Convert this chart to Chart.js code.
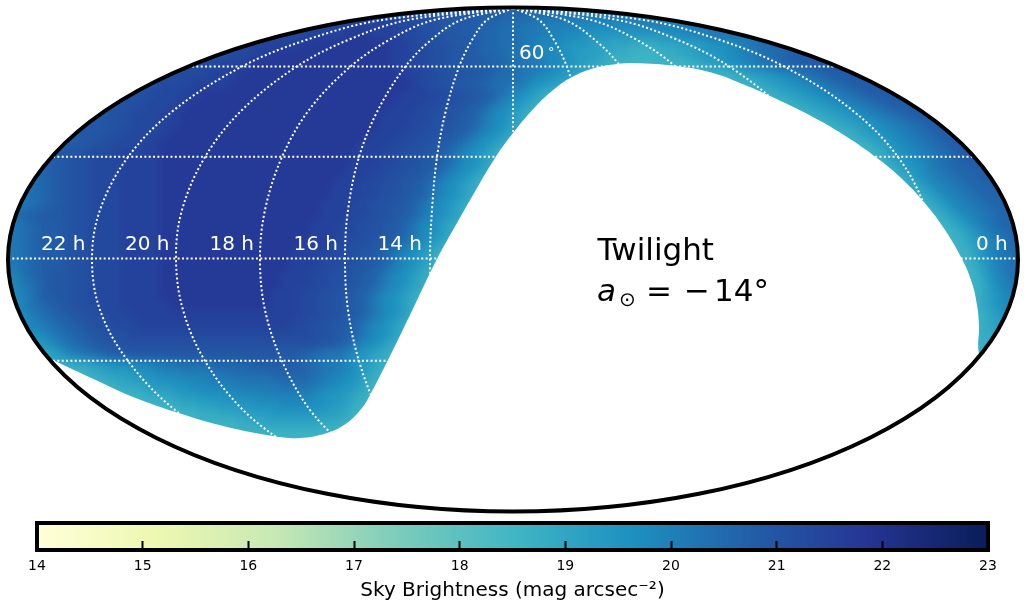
<!DOCTYPE html>
<html>
<head>
<meta charset="utf-8">
<title>Twilight sky brightness</title>
<script src="https://cdn.jsdelivr.net/npm/chart.js@4/dist/chart.umd.min.js"></script>
<style>
  html, body { margin: 0; padding: 0; background: #fff; }
  #wrap { position: relative; width: 1025px; height: 610px; overflow: hidden; }
  canvas { position: absolute; left: 0; }
  #map { top: 0; }
  #bar { top: 515px; }
</style>
</head>
<body>
<div id="wrap">
  <canvas id="map" width="1025" height="610"></canvas>
  <canvas id="bar" width="1025" height="95"></canvas>
</div>
<script>
// colour map
const cmapMags = [14, 15.125, 16.25, 17.375, 18.5, 19.625, 20.75, 21.875, 23]
const cmapColors = ['#ffffd9', '#edf8b1', '#c7e9b4', '#7fcdbb', '#41b6c4', '#1d91c0', '#225ea8', '#253494', '#081d58']

const barTicks = [14, 15, 16, 17, 18, 19, 20, 21, 22, 23]
const barTitle = 'Sky Brightness (mag arcsec\u207B\u00B2)'

// letters in the sky table stand for these magnitudes
const magLetters = 'abcdefghijklmnopq'
const magLevels = [18.6, 18.8, 19.0, 19.2, 19.4, 19.6, 19.8, 20.0, 20.2, 20.4, 20.6, 20.8, 20.95, 21.1, 21.3, 21.5, 21.75]

// sky cells, 10 map units square: [row, first column, runs of magnitude letters]
const skyRuns = [
  [1, 35, 'o4n4m4l3k3j3i13'],
  [2, 30, 'o4p6o2n2m2l2k2j2i2h4g6h4i7'],
  [3, 26, 'o5p4q2p3o2n2m2l2k2j2i2h2g2f2e6f2g2hi2j5'],
  [4, 23, 'o3p4q9p2o2n2m2lk2j2ihg2fe2d2c2b3c2d2ef2ghijk4'],
  [5, 20, 'n3o2p2q12p2o2n2m2lk2ji2hg2fed2cb2a3b2cde2fghij2kl2m3'],
  [6, 18, 'n2o2p3q14p2o2n2m2l2k2ji2hgfedcba8bcdefghijk2l2m5'],
  [7, 15, 'n3o3p3q16p2o2n2m2lkj2ihgfedba4'],
  [7, 69, 'a4bcdefghijkl2m3'],
  [8, 13, 'n3o3p4q18pon2ml2kj2ihfedba4'],
  [8, 72, 'a3bcdefghijkl2m3'],
  [9, 12, 'mn2o3p2q20p3o2n2mlkigfdba2'],
  [9, 75, 'a2bcdefghijkl2m3'],
  [10, 10, 'm2n2o3p2q20p3o2n2mlkigfdba2'],
  [10, 77, 'a2bcdefghijkl2m3'],
  [11, 9, 'lmn2o3p2q20p3o2n2mlkigfdba2'],
  [11, 79, 'a2bcdefghijkl2m3'],
  [12, 8, 'lm2n2o3p2q20p3o2n2mlkigfdba2'],
  [12, 81, 'a2bcdefghijkl4'],
  [13, 6, 'l2m2n2o3p2q20p3o2n2mlkigfdba2'],
  [13, 83, 'a2bdefghijkl4'],
  [14, 5, 'l3mn2o3p2q20p3o2n2mlkigfdba2'],
  [14, 85, 'a2cdfghijklm3'],
  [15, 4, 'l2mn2o3p4q19p3o2n2mlkigfdba2'],
  [15, 86, 'a2cefghijklm3'],
  [16, 4, 'klmn2o3p4q19p3o2n2mlkigfdba2'],
  [16, 87, 'a2cefgijk2l4'],
  [17, 3, 'jklmn2o3p4q18p3o2n2mlkigfdba2'],
  [17, 88, 'a2ceghijk2l4'],
  [18, 2, 'j2klmn2o3p4q17p3o2n2mlkigfdba2'],
  [18, 89, 'a2ceghijk2l3'],
  [19, 2, 'ijklmn2o3p4q17p3o2n2mlkigfdba2'],
  [19, 90, 'a2ceghijk2l3'],
  [20, 1, 'i2jklmn2o3p4q16p3o2n2mlkigfdba2'],
  [20, 91, 'a2ceghijk4'],
  [21, 1, 'jkl2m2n2o3p4q16p3o2n2mlkigfdba2'],
  [21, 92, 'a2ceghijk3'],
  [22, 1, 'ijkl2mn2o3p4q15p3o2n2mlkigfdba2'],
  [22, 93, 'a2cegijk3'],
  [23, 0, 'i2jkl2mn2o3p4q15p3o2n2mlkigfdba2'],
  [23, 93, 'a3cegijk2'],
  [24, 0, 'hijkl2mn2o3p4q14p3o2n2mlkigfdba2'],
  [24, 94, 'a2bdfhik2'],
  [25, 0, 'hijkl2mn2o3p4q13p3o2n2mlkigfdba2'],
  [25, 95, 'a2cfhij2'],
  [26, 0, 'hijkl2mn2o3p4q13p3o2n2mlkigfdba2'],
  [26, 95, 'a2begij2'],
  [27, 0, 'ghjklm2n2o3p4q12p3o2n2mlkigfdba2'],
  [27, 95, 'a3dghj2'],
  [28, 0, 'g2ijlm2n2o3p4q12p3o2n2mlkigfdba2'],
  [28, 96, 'a2cfhi2'],
  [29, 1, 'ghjlm2n2o3p4q11p3o2n2mlkigfdba2'],
  [29, 96, 'a2cegh2'],
  [30, 1, 'fhjklmn2o3p5q10p3o2n2mlkigfdba2'],
  [30, 96, 'a2ceg3'],
  [31, 1, 'g2ijklmn2o3p17o2n2mlkigfdba2'],
  [31, 96, 'a2bdf3'],
  [32, 2, 'fhijklmn2o3p15o2n2mlkigfdba2'],
  [32, 96, 'a2bde3'],
  [33, 2, 'f2gijklmn3o18n2mlkigfdba2'],
  [33, 96, 'a2bc3'],
  [34, 3, 'cegijklm2n20mlkigfdba2'],
  [34, 96, 'a2b3'],
  [35, 4, 'bdfhijkl2m15l2kji2hfecba2'],
  [35, 96, 'a4'],
  [36, 4, 'b4cdef2g2hi2j3k4l5kji2hfecba2'],
  [37, 6, 'a3bcd2ef2g2h3i2j4k4jihgfdba3'],
  [38, 8, 'a3bc2de2f2g2h3i4j3ihgfeca3'],
  [39, 10, 'a4bc2de2f3g3h5gfe2cba3'],
  [40, 12, 'a5bc2d2e3f3g3f2edba3'],
  [41, 15, 'a5b2c2d3e5d2ca3'],
  [42, 18, 'a6b2c6b2a3'],
  [43, 22, 'a14']
]

// edge of the dark sky, everything under it is blank
const horizonX = [40, 55, 100, 133, 180, 227, 273, 300, 327, 347, 362, 370, 388, 410, 437, 457, 473, 495, 513, 537, 557, 573, 593, 617, 640, 680, 713, 745, 770, 813, 847, 877, 900, 923, 943, 962, 972, 977, 979, 979.5, 990]
const horizonY = [354, 361, 382, 397, 413.5, 427, 436, 438, 433, 423, 408, 395, 360, 315, 259, 223, 195, 158, 133, 105, 87, 76.5, 68.5, 64, 63.3, 66.5, 73, 85, 96, 117, 137, 158, 177, 201, 227, 259, 283, 305, 325, 355, 360]

// graticule
const parallelY = [66.5, 156.7, 258.5, 360.7]
const parallelFrom = [192, 53, 8, 53]
const parallelTo = [835, 973, 1018, 973]
const meridianY = [8, 20, 40, 67, 110, 157, 210, 259, 310, 361, 410, 452]
const meridians = [
  [513, 382, 306, 241, 174, 128, 100, 92, 100, 128, 175, 241],
  [513, 408, 348, 296, 242, 205, 182, 176, 183, 205, 243, 296],
  [513, 434, 389, 350, 309, 282, 265, 260, 265, 282, 310, 350],
  [513, 461, 431, 405, 378, 359, 348, 345, 348, 359, 378, 405],
  [513, 487, 472, 459, 446, 437, 432, 430, 432, 437, 446, 459],
  [513, 513, 513, 513, 513, 513, 513, 513],
  [513, 539, 554, 567, 580, 590, 595, 597],
  [513, 565, 595, 621, 648, 667, 678, 681],
  [513, 591, 637, 676, 717, 744, 760, 765],
  [513, 618, 678, 730, 784, 821, 844, 850],
  [513, 644, 720, 785, 852, 898, 926, 934]
]

const mapLabels = [
  { text: '22 h', x: 41, y: 250, font: '20px "DejaVu Sans"', color: '#fff' },
  { text: '20 h', x: 125, y: 250, font: '20px "DejaVu Sans"', color: '#fff' },
  { text: '18 h', x: 209.5, y: 250, font: '20px "DejaVu Sans"', color: '#fff' },
  { text: '16 h', x: 293.5, y: 250, font: '20px "DejaVu Sans"', color: '#fff' },
  { text: '14 h', x: 377.5, y: 250, font: '20px "DejaVu Sans"', color: '#fff' },
  { text: '0 h', x: 976, y: 250, font: '20px "DejaVu Sans"', color: '#fff' },
  { text: '60', x: 519, y: 59, font: '20px "DejaVu Sans"', color: '#fff' },
  { text: '\u00B0', x: 548, y: 56, font: '13px "DejaVu Sans"', color: '#fff' },
  { text: 'Twilight', x: 597.5, y: 260, font: '31px "DejaVu Sans"', color: '#000' },
  { text: 'a', x: 597, y: 301, font: 'italic 31px "DejaVu Sans"', color: '#000' },
  { text: '\u2299', x: 619, y: 306, font: '20px "DejaVu Sans"', color: '#000' },
  { text: '=', x: 646, y: 301, font: '31px "DejaVu Sans"', color: '#000' },
  { text: '\u2212', x: 684, y: 301, font: '31px "DejaVu Sans"', color: '#000' },
  { text: '14\u00B0', x: 714, y: 301, font: '31px "DejaVu Sans"', color: '#000' }
]

function hexToRgb(hex) {
  return [1, 3, 5].map(i => parseInt(hex.slice(i, i + 2), 16))
}

function colorOfMag(m) {
  let i = 0
  while (i < cmapMags.length - 2 && m > cmapMags[i + 1]) i++
  const t = (m - cmapMags[i]) / (cmapMags[i + 1] - cmapMags[i])
  const a = hexToRgb(cmapColors[i])
  const b = hexToRgb(cmapColors[i + 1])
  return 'rgb(' + a.map((v, k) => Math.round(v + (b[k] - v) * t)).join(',') + ')'
}

// one floating bar per run of equal magnitude
const skyCells = []
skyRuns.forEach(([row, col, runs]) => {
  let c = col
  for (const [, letter, count] of runs.matchAll(/([a-q])(\d*)/g)) {
    const n = count ? parseInt(count) : 1
    skyCells.push({
      x: [c * 10, (c + n) * 10],
      y: row * 10 + 5,
      mag: magLevels[magLetters.indexOf(letter)]
    })
    c += n
  }
})

const dotted = {
  type: 'line',
  borderColor: '#fff',
  borderWidth: 2,
  borderDash: [2, 2.35],
  pointRadius: 0,
  fill: false,
  order: 1
}

const parallelSets = parallelY.map((y, i) => ({
  ...dotted,
  data: [{ x: parallelFrom[i], y: y }, { x: parallelTo[i], y: y }]
}))

const meridianSets = meridians.map(xs => ({
  ...dotted,
  tension: 0.35,
  data: xs.map((x, i) => ({ x: x, y: meridianY[i] }))
}))

// outline of the projection, in map units
const mapFrame = { cx: 513, cy: 259.5, rx: 505, ry: 252 }

function framePath(chart) {
  const { x, y } = chart.scales
  const ctx = chart.ctx
  ctx.beginPath()
  ctx.ellipse(
    x.getPixelForValue(mapFrame.cx), y.getPixelForValue(mapFrame.cy),
    x.getPixelForValue(mapFrame.rx) - x.getPixelForValue(0),
    y.getPixelForValue(mapFrame.ry) - y.getPixelForValue(0),
    0, 0, Math.PI * 2
  )
}

const mapPlugin = {
  id: 'mapFrame',
  beforeDatasetsDraw(chart) {
    chart.ctx.save()
    framePath(chart)
    chart.ctx.clip()
  },
  // soften the 10 unit cells, the original grid is much finer
  afterDatasetDraw(chart, args) {
    if (args.meta.type !== 'bar') return
    const ctx = chart.ctx
    ctx.save()
    ctx.filter = 'blur(5px)'
    ctx.drawImage(chart.canvas, 0, 0)
    ctx.restore()
  },
  afterDatasetsDraw(chart) {
    const ctx = chart.ctx
    const { x, y } = chart.scales
    ctx.restore()
    framePath(chart)
    ctx.lineWidth = 4
    ctx.strokeStyle = '#000'
    ctx.stroke()
    ctx.textBaseline = 'alphabetic'
    ctx.textAlign = 'left'
    mapLabels.forEach(l => {
      ctx.font = l.font
      ctx.fillStyle = l.color
      ctx.fillText(l.text, x.getPixelForValue(l.x), y.getPixelForValue(l.y))
    })
  }
}

new Chart(document.getElementById('map'), {
  type: 'bar',
  data: {
    datasets: [
      ...parallelSets,
      ...meridianSets,
      {
        type: 'line',
        data: horizonX.map((x, i) => ({ x: x, y: horizonY[i] })),
        tension: 0.4,
        borderWidth: 0,
        pointRadius: 0,
        backgroundColor: '#fff',
        fill: { value: 610 },
        order: 2
      },
      {
        type: 'bar',
        indexAxis: 'y',
        data: skyCells,
        barThickness: 10,
        backgroundColor: c => colorOfMag(c.raw ? c.raw.mag : 20),
        order: 3
      }
    ]
  },
  options: {
    responsive: false,
    animation: false,
    events: [],
    layout: { padding: 0 },
    plugins: { legend: { display: false }, tooltip: { enabled: false } },
    scales: {
      x: { type: 'linear', min: 0, max: 1025, display: false, offset: false },
      y: { type: 'linear', min: 0, max: 610, reverse: true, display: false, offset: false }
    }
  },
  plugins: [mapPlugin]
})

// colour bar
function barGradient(c) {
  const area = c.chart.chartArea
  if (!area) return '#000'
  const g = c.chart.ctx.createLinearGradient(area.left, 0, area.right, 0)
  cmapMags.forEach((m, i) => g.addColorStop((m - 14) / 9, cmapColors[i]))
  return g
}

const barFrame = {
  id: 'barFrame',
  afterDatasetsDraw(chart) {
    const { left, top, width, height } = chart.chartArea
    chart.ctx.lineWidth = 4
    chart.ctx.strokeStyle = '#000'
    chart.ctx.strokeRect(left, top, width, height)
  }
}

new Chart(document.getElementById('bar'), {
  type: 'bar',
  data: {
    labels: ['sky'],
    datasets: [{
      data: [[14, 23]],
      backgroundColor: barGradient,
      barPercentage: 1,
      categoryPercentage: 1
    }]
  },
  options: {
    indexAxis: 'y',
    responsive: false,
    animation: false,
    events: [],
    layout: { padding: { left: 37, right: 37, top: 8, bottom: 0 } },
    plugins: { legend: { display: false }, tooltip: { enabled: false } },
    scales: {
      x: {
        type: 'linear',
        min: barTicks[0],
        max: barTicks[barTicks.length - 1],
        afterFit: s => { s.height = 60 },
        afterBuildTicks: s => { s.ticks = barTicks.map(v => ({ value: v })) },
        border: { display: false },
        grid: { drawOnChartArea: false, drawTicks: true, tickLength: -9, tickWidth: 2, tickColor: '#000', z: 1 },
        ticks: {
          color: '#000',
          font: { family: '"DejaVu Sans"', size: 14 },
          padding: 17,
          maxRotation: 0,
          autoSkip: false
        },
        title: {
          display: true,
          text: barTitle,
          color: '#000',
          font: { family: '"DejaVu Sans"', size: 20 },
          padding: { top: 0, bottom: 7 }
        }
      },
      y: { display: false }
    }
  },
  plugins: [barFrame]
})
</script>
</body>
</html>
